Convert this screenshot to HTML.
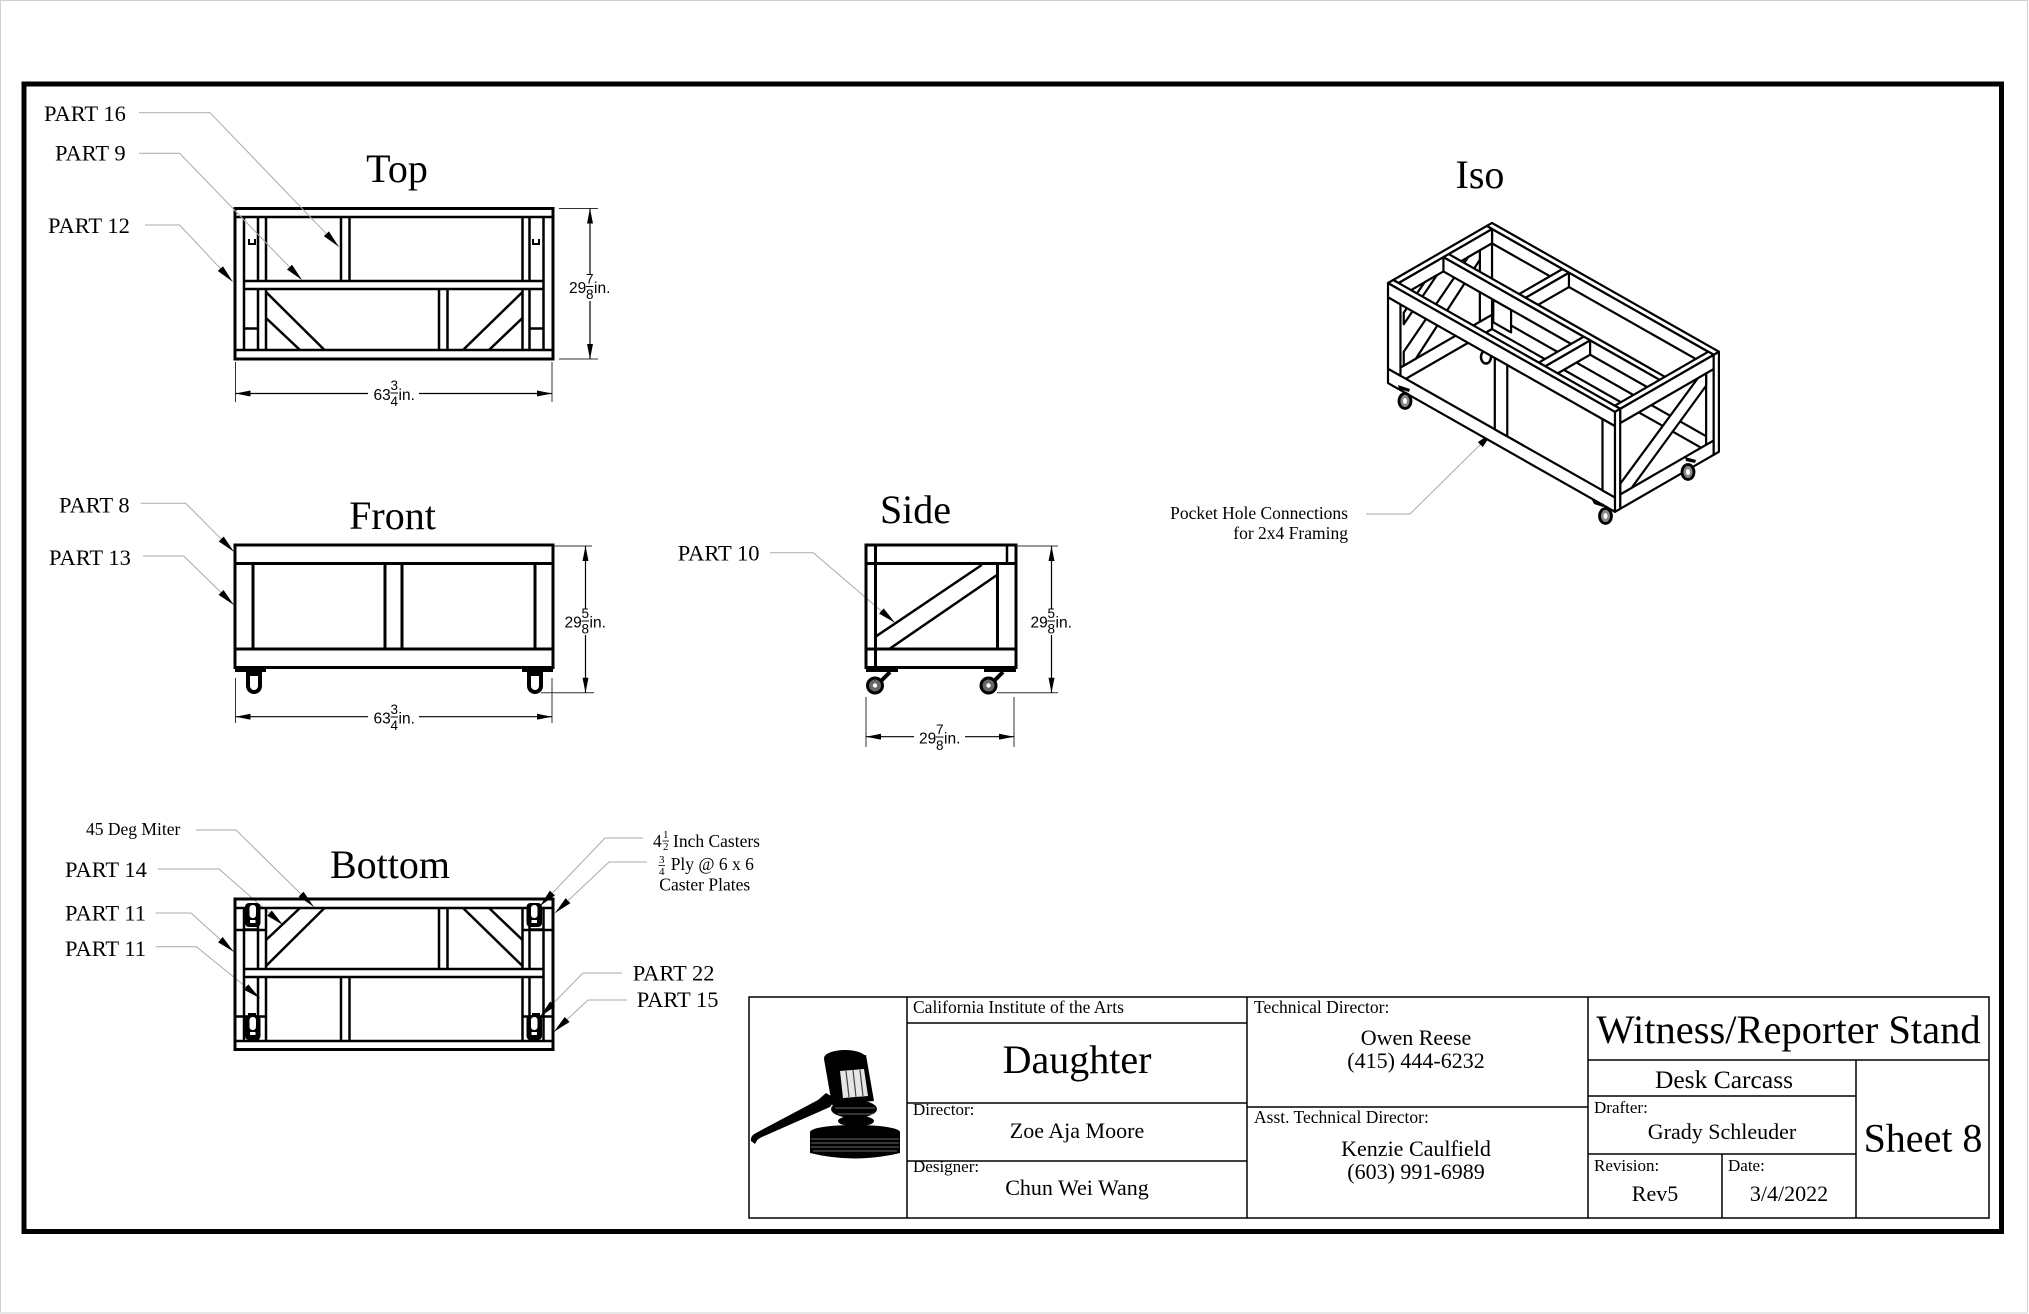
<!DOCTYPE html>
<html><head><meta charset="utf-8"><style>
html,body{margin:0;padding:0;background:#fff;}
svg{display:block;}
.s{font-family:"Liberation Serif","Times New Roman",serif;fill:#000;}
.d{font-family:"Liberation Sans",Arial,sans-serif;fill:#000;}
.iso rect,.iso polygon{fill:#fff;stroke:#000;stroke-width:2.2;vector-effect:non-scaling-stroke;stroke-linejoin:round;}
</style></head><body>
<svg width="2029" height="1314" viewBox="0 0 2029 1314" xmlns="http://www.w3.org/2000/svg">
<defs>
<marker id="ah" viewBox="0 0 18 7" refX="18" refY="3.5" markerWidth="18" markerHeight="7" markerUnits="userSpaceOnUse" orient="auto"><path d="M0,0 L18,3.5 L0,7 z" fill="#000"/></marker>
<marker id="da" viewBox="0 0 15 6" refX="15" refY="3" markerWidth="15" markerHeight="6" markerUnits="userSpaceOnUse" orient="auto"><path d="M0,0 L15,3 L0,6 z" fill="#000"/></marker>
<g id="tv" stroke="#000" fill="none" stroke-width="2.5">
 <rect x="235" y="208.5" width="318" height="150.5" stroke-width="3"/>
 <line x1="235" y1="217" x2="553" y2="217"/>
 <line x1="235" y1="350" x2="553" y2="350"/>
 <line x1="244" y1="281" x2="544" y2="281"/>
 <line x1="244" y1="289" x2="544" y2="289"/>
 <line x1="244" y1="217" x2="244" y2="350"/>
 <line x1="258" y1="217" x2="258" y2="281"/><line x1="258" y1="289" x2="258" y2="350"/>
 <line x1="266" y1="217" x2="266" y2="281"/><line x1="266" y1="289" x2="266" y2="350"/>
 <line x1="522.5" y1="217" x2="522.5" y2="281"/><line x1="522.5" y1="289" x2="522.5" y2="350"/>
 <line x1="529.5" y1="217" x2="529.5" y2="281"/><line x1="529.5" y1="289" x2="529.5" y2="350"/>
 <line x1="543.5" y1="217" x2="543.5" y2="350"/>
 <line x1="341" y1="217" x2="341" y2="281"/><line x1="349.5" y1="217" x2="349.5" y2="281"/>
 <line x1="439" y1="289" x2="439" y2="350"/><line x1="447.5" y1="289" x2="447.5" y2="350"/>
 <line x1="266" y1="292" x2="324.5" y2="350"/><line x1="266" y1="318" x2="300" y2="350"/>
 <line x1="522.5" y1="292" x2="463" y2="350"/><line x1="522.5" y1="318" x2="489" y2="350"/>
 <line x1="244" y1="328.5" x2="258" y2="328.5"/><line x1="529.5" y1="328.5" x2="543.5" y2="328.5"/>
 <path d="M249,239 v5 h6 v-5" stroke-width="2"/><path d="M533,239 v5 h6 v-5" stroke-width="2"/>
</g>
</defs>

<!-- page edge -->
<rect x="0.5" y="0.5" width="2027" height="1312.5" fill="none" stroke="#cfcfcf" stroke-width="1"/>
<!-- drawing border -->
<rect x="24" y="84" width="1977.5" height="1147.5" fill="none" stroke="#000" stroke-width="5"/>

<!-- ===== TOP VIEW ===== -->
<use href="#tv"/>
<text class="s" x="397" y="182" font-size="40" text-anchor="middle">Top</text>
<g stroke="#333" stroke-width="1" fill="none">
 <line x1="559" y1="208.5" x2="598" y2="208.5"/><line x1="559" y1="359" x2="598" y2="359"/>
 <line x1="235.5" y1="362" x2="235.5" y2="402"/><line x1="552" y1="362" x2="552" y2="402"/>
</g>
<g stroke="#000" stroke-width="1.2">
 <line x1="590" y1="275" x2="590" y2="208.5" marker-end="url(#da)"/>
 <line x1="590" y1="301" x2="590" y2="359" marker-end="url(#da)"/>
 <line x1="368" y1="393.5" x2="235.5" y2="393.5" marker-end="url(#da)"/>
 <line x1="419" y1="393.5" x2="552" y2="393.5" marker-end="url(#da)"/>
</g>
<g class="d">
 <text x="569" y="293" font-size="15.5">29</text><text x="586" y="283.5" font-size="13.5">7</text><text x="586" y="299" font-size="13.5">8</text><text x="594" y="293" font-size="15.5">in.</text>
 <text x="373.5" y="400" font-size="15.5">63</text><text x="390.5" y="390" font-size="13.5">3</text><text x="390.5" y="406" font-size="13.5">4</text><text x="398.5" y="400" font-size="15.5">in.</text>
</g>
<line x1="586" y1="286.5" x2="593.5" y2="286.5" stroke="#000" stroke-width="1"/>
<line x1="390.5" y1="393" x2="398" y2="393" stroke="#000" stroke-width="1"/>

<!-- callouts -->
<g fill="none" stroke="#aaa" stroke-width="1">
 <polyline points="139,112.7 210,112.7 338.8,246.7" marker-end="url(#ah)"/>
 <polyline points="139,153.3 179.6,153.3 302,280" marker-end="url(#ah)"/>
 <polyline points="145,225 179.6,225 232.7,281.7" marker-end="url(#ah)"/>
 <polyline points="140.8,503.3 185.7,503.3 233.9,551.7" marker-end="url(#ah)"/>
 <polyline points="142.9,556 183.7,556 233.9,605" marker-end="url(#ah)"/>
 <polyline points="770,552.7 813.3,552.7 895,622.7" marker-end="url(#ah)"/>
 <polyline points="196,830 236,830 313.8,906.7" marker-end="url(#ah)"/>
 <polyline points="158,869 219,869 283,925" marker-end="url(#ah)"/>
 <polyline points="155.6,913 191,913 233.7,951.7" marker-end="url(#ah)"/>
 <polyline points="155.6,946.7 196.4,946.7 260,998.3" marker-end="url(#ah)"/>
 <polyline points="643,838 605,838 540,906" marker-end="url(#ah)"/>
 <polyline points="647,862 609,862 555,913" marker-end="url(#ah)"/>
 <polyline points="622,973 583,973 540,1016.7" marker-end="url(#ah)"/>
 <polyline points="627,1000 588,1000 554,1031.7" marker-end="url(#ah)"/>
 <polyline points="1366,514 1410,514 1493,432" marker-end="url(#ah)"/>
</g>
<g class="s" font-size="22.5">
 <text x="44" y="121">PART 16</text>
 <text x="55" y="160.5">PART 9</text>
 <text x="48" y="233">PART 12</text>
 <text x="59" y="512.5">PART 8</text>
 <text x="49" y="565">PART 13</text>
 <text x="677.7" y="560.5">PART 10</text>
 <text x="65" y="877">PART 14</text>
 <text x="65" y="920.5">PART 11</text>
 <text x="65" y="956">PART 11</text>
 <text x="632.7" y="980.5">PART 22</text>
 <text x="636.7" y="1007">PART 15</text>
</g>
<g class="s" font-size="17.5">
 <text x="86" y="835">45 Deg Miter</text>
 <text x="653" y="847">4</text><text x="663" y="838" font-size="11">1</text><text x="663" y="850" font-size="11">2</text><text x="673" y="847">Inch Casters</text>
 <text x="659" y="863" font-size="11">3</text><text x="659" y="875" font-size="11">4</text><text x="670.7" y="870">Ply @ 6 x 6</text>
 <text x="659.3" y="890.7">Caster Plates</text>
 <text x="1348" y="519" text-anchor="end">Pocket Hole Connections</text>
 <text x="1348" y="539" text-anchor="end">for 2x4 Framing</text>
</g>
<line x1="662.5" y1="841" x2="669" y2="841" stroke="#000" stroke-width="0.8"/>
<line x1="658.5" y1="865.5" x2="665" y2="865.5" stroke="#000" stroke-width="0.8"/>

<!-- ===== FRONT VIEW ===== -->
<text class="s" x="392.5" y="529" font-size="40" text-anchor="middle">Front</text>
<g stroke="#000" fill="none" stroke-width="3">
 <rect x="235" y="545" width="318" height="122.5"/>
 <line x1="235" y1="563.5" x2="553" y2="563.5"/>
 <line x1="235" y1="649" x2="553" y2="649"/>
 <line x1="253" y1="563.5" x2="253" y2="649"/>
 <line x1="385" y1="563.5" x2="385" y2="649"/>
 <line x1="402" y1="563.5" x2="402" y2="649"/>
 <line x1="535" y1="563.5" x2="535" y2="649"/>
</g>
<rect x="235" y="666" width="31" height="6" fill="#000"/>
<rect x="522" y="666" width="31" height="6" fill="#000"/>
<path d="M246,671 h16 v15 a8,8 0 0 1 -16,0 z" fill="#000"/>
<path d="M250,676 h8 v10 a4,4 0 0 1 -8,0 z" fill="#fff"/>
<path d="M527,671 h16 v15 a8,8 0 0 1 -16,0 z" fill="#000"/>
<path d="M531,676 h8 v10 a4,4 0 0 1 -8,0 z" fill="#fff"/>
<g stroke="#333" stroke-width="1" fill="none">
 <line x1="553" y1="546" x2="592" y2="546"/><line x1="541" y1="692.7" x2="594" y2="692.7"/>
 <line x1="235.5" y1="678" x2="235.5" y2="723"/><line x1="552" y1="678" x2="552" y2="723"/>
</g>
<g stroke="#000" stroke-width="1.2">
 <line x1="585.5" y1="609" x2="585.5" y2="546" marker-end="url(#da)"/>
 <line x1="585.5" y1="635" x2="585.5" y2="692.7" marker-end="url(#da)"/>
 <line x1="368" y1="716.7" x2="235.5" y2="716.7" marker-end="url(#da)"/>
 <line x1="419" y1="716.7" x2="552" y2="716.7" marker-end="url(#da)"/>
</g>
<g class="d">
 <text x="564.5" y="627.5" font-size="15.5">29</text><text x="581.5" y="618" font-size="13.5">5</text><text x="581.5" y="633.5" font-size="13.5">8</text><text x="589.5" y="627.5" font-size="15.5">in.</text>
 <text x="373.5" y="723.5" font-size="15.5">63</text><text x="390.5" y="714" font-size="13.5">3</text><text x="390.5" y="730" font-size="13.5">4</text><text x="398.5" y="723.5" font-size="15.5">in.</text>
</g>
<line x1="581.5" y1="621" x2="589" y2="621" stroke="#000" stroke-width="1"/>
<line x1="390.5" y1="717" x2="398" y2="717" stroke="#000" stroke-width="1"/>

<!-- ===== SIDE VIEW ===== -->
<text class="s" x="915.5" y="523" font-size="40" text-anchor="middle">Side</text>
<g stroke="#000" fill="none" stroke-width="3">
 <rect x="866" y="545" width="150" height="122.5"/>
 <line x1="866" y1="563.5" x2="1016" y2="563.5"/>
 <line x1="866" y1="649" x2="1016" y2="649"/>
 <line x1="875.5" y1="545" x2="875.5" y2="667"/>
 <line x1="1007" y1="545" x2="1007" y2="563.5" stroke-width="2.5"/>
 <line x1="997.5" y1="563.5" x2="997.5" y2="649"/>
 <line x1="875.5" y1="636.7" x2="981.7" y2="565" stroke-width="2.5"/>
 <line x1="890" y1="648.5" x2="997" y2="575" stroke-width="2.5"/>
</g>
<rect x="866" y="666" width="32" height="6" fill="#000"/>
<rect x="984" y="666" width="32" height="6" fill="#000"/>
<line x1="890" y1="672" x2="879" y2="683" stroke="#000" stroke-width="4"/>
<line x1="1003" y1="672" x2="992" y2="683" stroke="#000" stroke-width="4"/>
<circle cx="875" cy="685.5" r="7.5" fill="#666" stroke="#000" stroke-width="3"/>
<circle cx="875" cy="685.5" r="2.2" fill="#fff"/>
<circle cx="988.5" cy="685.5" r="7.5" fill="#666" stroke="#000" stroke-width="3"/>
<circle cx="988.5" cy="685.5" r="2.2" fill="#fff"/>
<g stroke="#333" stroke-width="1" fill="none">
 <line x1="1016" y1="546" x2="1058" y2="546"/><line x1="997" y1="692.7" x2="1058" y2="692.7"/>
 <line x1="866" y1="697" x2="866" y2="747"/><line x1="1014" y1="697" x2="1014" y2="747"/>
</g>
<g stroke="#000" stroke-width="1.2">
 <line x1="1051.5" y1="609" x2="1051.5" y2="546" marker-end="url(#da)"/>
 <line x1="1051.5" y1="635" x2="1051.5" y2="692.7" marker-end="url(#da)"/>
 <line x1="914" y1="736.7" x2="866" y2="736.7" marker-end="url(#da)"/>
 <line x1="965" y1="736.7" x2="1014" y2="736.7" marker-end="url(#da)"/>
</g>
<g class="d">
 <text x="1030.5" y="627.5" font-size="15.5">29</text><text x="1047.5" y="618" font-size="13.5">5</text><text x="1047.5" y="633.5" font-size="13.5">8</text><text x="1055.5" y="627.5" font-size="15.5">in.</text>
 <text x="919" y="743.5" font-size="15.5">29</text><text x="936" y="734" font-size="13.5">7</text><text x="936" y="750" font-size="13.5">8</text><text x="944" y="743.5" font-size="15.5">in.</text>
</g>
<line x1="1047.5" y1="621" x2="1055" y2="621" stroke="#000" stroke-width="1"/>
<line x1="936" y1="737" x2="943.5" y2="737" stroke="#000" stroke-width="1"/>

<!-- ===== BOTTOM VIEW ===== -->
<text class="s" x="390" y="878" font-size="40" text-anchor="middle">Bottom</text>
<use href="#tv" transform="matrix(1 0 0 -1 0 1258)"/>
<g stroke="#000" stroke-width="2.5">
 <line x1="235" y1="930" x2="266" y2="930"/><line x1="522" y1="930" x2="553" y2="930"/>
 <line x1="235" y1="1016.5" x2="266" y2="1016.5"/><line x1="522" y1="1016.5" x2="553" y2="1016.5"/>
</g>
<g>
 <rect x="245" y="903" width="15.5" height="24" rx="4" fill="#000"/>
 <rect x="249.5" y="905" width="6.5" height="13" rx="3" fill="#fff"/>
 <rect x="250" y="920" width="5.5" height="3" fill="#fff"/>
 <rect x="245" y="1015" width="15.5" height="25" rx="4" fill="#000"/>
 <rect x="249.5" y="1017" width="6.5" height="13" rx="3" fill="#fff"/>
 <rect x="250" y="1032" width="5.5" height="3" fill="#fff"/>
 <rect x="526.5" y="903" width="15.5" height="24" rx="4" fill="#000"/>
 <rect x="531" y="905" width="6.5" height="13" rx="3" fill="#fff"/>
 <rect x="531.5" y="920" width="5.5" height="3" fill="#fff"/>
 <rect x="526.5" y="1015" width="15.5" height="25" rx="4" fill="#000"/>
 <rect x="531" y="1017" width="6.5" height="13" rx="3" fill="#fff"/>
 <rect x="531.5" y="1032" width="5.5" height="3" fill="#fff"/>
</g>

<!-- ===== ISO VIEW ===== -->
<text class="s" x="1480" y="188" font-size="40" text-anchor="middle">Iso</text>
<g class="iso">
 <g transform="matrix(3.56,2.02,0,4.1,1486.7,226)">
  <rect x="1.5" y="0" width="60.75" height="3.5"/>
  <rect x="1.5" y="20.9" width="60.75" height="3.5"/>
 </g>
 <g transform="matrix(3.48,-2.01,0,4.1,1393.3,286)">
  <rect x="0" y="0" width="28.375" height="3.5"/>
  <rect x="0" y="20.9" width="28.375" height="3.5"/>
  <rect x="24.875" y="3.5" width="3.5" height="17.4"/>
  <polygon points="3,17.5 21.5,3.5 24.875,3.5 24.875,5.8 6.5,20.9 3,20.9"/>
  <polygon points="3,8 9,3.5 12.5,3.5 3,10.8"/>
 </g>
 <ellipse cx="1486" cy="357" rx="5" ry="6.5" fill="#fff" stroke="#000" stroke-width="2.5"/>
 <g transform="matrix(3.48,-2.01,0,4.1,1470.2,329.7)"><rect x="15.9" y="0" width="12.475" height="3.5"/></g>
 <g transform="matrix(3.56,2.02,3.48,-2.01,1388,283)"><rect x="21.3" y="15.9" width="1.8" height="12.475"/></g>
 <g transform="matrix(3.56,2.02,0,4.1,1438.1,254.1)">
  <rect x="15.5" y="3.5" width="5" height="5.5"/>
  <rect x="1.5" y="0" width="60.75" height="3.5"/>
 </g>
 <g transform="matrix(3.56,2.02,3.48,-2.01,1388,283)"><rect x="1.5" y="14.4" width="60.75" height="1.5"/></g>
 <g transform="matrix(3.48,-2.01,0,4.1,1540,369.3)"><rect x="1.5" y="0" width="12.9" height="3.5"/></g>
 <g transform="matrix(3.56,2.02,3.48,-2.01,1388,283)"><rect x="40.9" y="1.5" width="1.8" height="12.9"/></g>
 <g transform="matrix(3.48,-2.01,0,4.1,1614.95,411.78)">
  <rect x="1.5" y="0" width="26.875" height="3.5"/>
  <rect x="1.5" y="20.9" width="26.875" height="3.5"/>
  <rect x="26.2" y="3.5" width="2.175" height="17.4"/>
  <rect x="28.375" y="0" width="1.5" height="24.4"/>
  <polygon points="1.5,18.3 23.8,3.5 26.2,3.5 26.2,6.5 4.8,20.9 1.5,20.9"/>
  <rect x="0" y="0" width="1.5" height="24.4"/>
 </g>
 <g transform="matrix(3.56,2.02,0,4.1,1388,283)">
  <rect x="0" y="0" width="63.75" height="3.5"/>
  <rect x="0" y="20.9" width="63.75" height="3.5"/>
  <rect x="0" y="3.5" width="3.5" height="17.4"/>
  <rect x="30" y="3.5" width="3.5" height="17.4"/>
  <rect x="60.25" y="3.5" width="3.5" height="17.4"/>
 </g>
 <g transform="matrix(3.56,2.02,3.48,-2.01,1388,283)">
  <rect x="0" y="28.375" width="63.75" height="1.5"/>
  <rect x="0" y="1.5" width="1.5" height="26.875"/>
  <rect x="62.25" y="1.5" width="1.5" height="26.875"/>
  <rect x="0" y="0" width="63.75" height="1.5"/>
 </g>
</g>
<g>
 <polygon points="1398,385 1410,389 1409,392 1399,389" fill="#000"/>
 <ellipse cx="1405" cy="401" rx="6" ry="7.5" fill="#888" stroke="#000" stroke-width="2.8"/>
 <ellipse cx="1405" cy="401" rx="2" ry="3" fill="#fff"/>
 <polygon points="1592,500 1604,504 1603,507 1594,504" fill="#000"/>
 <ellipse cx="1605.5" cy="516" rx="6" ry="7.5" fill="#888" stroke="#000" stroke-width="2.8"/>
 <ellipse cx="1605.5" cy="516" rx="2" ry="3" fill="#fff"/>
 <polygon points="1685,457 1696,460 1695,463 1686,461" fill="#000"/>
 <ellipse cx="1688" cy="472" rx="6" ry="7.5" fill="#888" stroke="#000" stroke-width="2.8"/>
 <ellipse cx="1688" cy="472" rx="2" ry="3" fill="#fff"/>
</g>

<!-- ===== TITLE BLOCK ===== -->
<g stroke="#000" stroke-width="1.5" fill="none">
 <rect x="749" y="997" width="1240" height="221"/>
 <line x1="907" y1="997" x2="907" y2="1218"/>
 <line x1="1247" y1="997" x2="1247" y2="1218"/>
 <line x1="1588" y1="997" x2="1588" y2="1218"/>
 <line x1="907" y1="1023" x2="1247" y2="1023"/>
 <line x1="907" y1="1103" x2="1247" y2="1103"/>
 <line x1="907" y1="1161" x2="1247" y2="1161"/>
 <line x1="1247" y1="1107" x2="1588" y2="1107"/>
 <line x1="1588" y1="1060" x2="1989" y2="1060"/>
 <line x1="1856" y1="1060" x2="1856" y2="1218"/>
 <line x1="1588" y1="1096" x2="1856" y2="1096"/>
 <line x1="1588" y1="1154" x2="1856" y2="1154"/>
 <line x1="1722" y1="1154" x2="1722" y2="1218"/>
</g>
<!-- gavel -->
<g fill="#000">
 <path d="M810,1132 L810,1153 Q855,1164 900,1153 L900,1132 Z"/>
 <ellipse cx="855" cy="1132" rx="45" ry="7"/>
 <path d="M751,1141 Q750,1136 756,1133 L818,1100 L826,1093 L836,1099 L830,1107 L762,1137 Q757,1139 755,1144 Z"/>
 <ellipse cx="845" cy="1058" rx="21" ry="8"/>
 <polygon points="824,1059 866,1055 874,1101 832,1105"/>
 <ellipse cx="854" cy="1109" rx="23" ry="9"/>
 <ellipse cx="856" cy="1121" rx="18" ry="5.5"/>
</g>
<polygon points="840,1071 864,1069 868,1096 843,1098" fill="#e6e6e6"/>
<g stroke="#444" stroke-width="1.2"><line x1="846" y1="1071" x2="849" y2="1097"/><line x1="853" y1="1070" x2="856" y2="1097"/><line x1="860" y1="1070" x2="863" y2="1096"/></g>
<g stroke="#fff" stroke-width="0.7" opacity="0.55">
 <line x1="811" y1="1139" x2="899" y2="1139"/><line x1="811" y1="1143" x2="899" y2="1143"/><line x1="811" y1="1147" x2="899" y2="1147"/><line x1="813" y1="1151" x2="897" y2="1151"/>
 <line x1="835" y1="1108" x2="875" y2="1108"/><line x1="838" y1="1114" x2="873" y2="1114"/>
</g>

<g class="s">
 <text x="913" y="1013" font-size="17.5">California Institute of the Arts</text>
 <text x="1077" y="1073" font-size="40" text-anchor="middle">Daughter</text>
 <text x="913" y="1115" font-size="17">Director:</text>
 <text x="1077" y="1138" font-size="22" text-anchor="middle">Zoe Aja Moore</text>
 <text x="913" y="1172" font-size="17">Designer:</text>
 <text x="1077" y="1195" font-size="22" text-anchor="middle">Chun Wei Wang</text>
 <text x="1254" y="1013" font-size="17.5">Technical Director:</text>
 <text x="1416" y="1045" font-size="22" text-anchor="middle">Owen Reese</text>
 <text x="1416" y="1068" font-size="22" text-anchor="middle">(415) 444-6232</text>
 <text x="1254" y="1123" font-size="17.5">Asst. Technical Director:</text>
 <text x="1416" y="1156" font-size="22" text-anchor="middle">Kenzie Caulfield</text>
 <text x="1416" y="1179" font-size="22" text-anchor="middle">(603) 991-6989</text>
 <text x="1788.5" y="1043" font-size="40.5" text-anchor="middle">Witness/Reporter Stand</text>
 <text x="1724" y="1088" font-size="25.5" text-anchor="middle">Desk Carcass</text>
 <text x="1594" y="1113" font-size="17">Drafter:</text>
 <text x="1722" y="1139" font-size="22" text-anchor="middle">Grady Schleuder</text>
 <text x="1923" y="1151.5" font-size="40" text-anchor="middle">Sheet 8</text>
 <text x="1594" y="1171" font-size="17">Revision:</text>
 <text x="1655" y="1201" font-size="22" text-anchor="middle">Rev5</text>
 <text x="1728" y="1171" font-size="17">Date:</text>
 <text x="1789" y="1201" font-size="22" text-anchor="middle">3/4/2022</text>
</g>
</svg>
</body></html>
